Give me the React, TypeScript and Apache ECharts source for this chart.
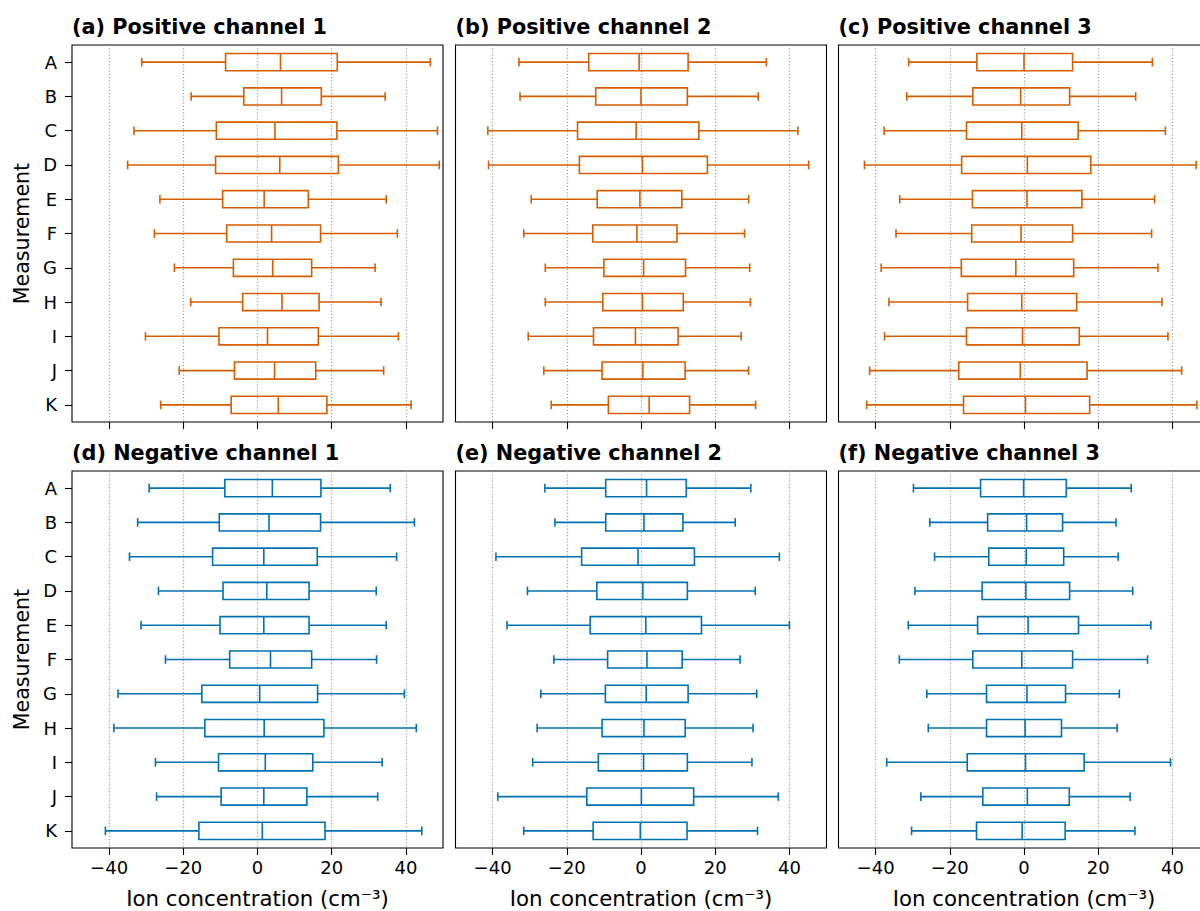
import React, { useEffect, useRef } from 'react';
import * as echarts from 'echarts';

const categories = ['A', 'B', 'C', 'D', 'E', 'F', 'G', 'H', 'I', 'J', 'K'];
const xTicks = [-40, -20, 0, 20, 40];

// each row: [lower whisker, Q1, median, Q3, upper whisker]
const positiveCh1 = [
  [-31.2, -8.6, 6.2, 21.5, 46.6],
  [-17.9, -3.7, 6.5, 17.2, 34.4],
  [-33.3, -11.1, 4.7, 21.4, 48.5],
  [-35.0, -11.3, 6.0, 21.8, 49.0],
  [-26.3, -9.4, 1.8, 13.7, 34.7],
  [-27.8, -8.3, 3.8, 17.0, 37.7],
  [-22.4, -6.5, 4.1, 14.6, 31.7],
  [-18.0, -4.0, 6.6, 16.6, 33.3],
  [-30.2, -10.4, 2.7, 16.4, 38.0],
  [-21.1, -6.2, 4.6, 15.7, 34.0],
  [-26.1, -7.1, 5.6, 18.7, 41.4],
];
const positiveCh2 = [
  [-32.9, -14.1, -0.5, 12.7, 33.8],
  [-32.6, -12.2, 0.0, 12.5, 31.6],
  [-41.3, -17.1, -1.3, 15.6, 42.3],
  [-41.1, -16.6, 0.4, 17.9, 45.2],
  [-29.6, -11.8, -0.3, 11.0, 29.0],
  [-31.6, -13.0, -1.1, 9.7, 27.9],
  [-25.8, -10.0, 0.7, 12.0, 29.3],
  [-25.8, -10.3, 0.4, 11.4, 29.5],
  [-30.4, -12.8, -1.5, 10.0, 27.0],
  [-26.2, -10.5, 0.5, 11.9, 29.0],
  [-24.2, -8.8, 2.2, 13.1, 30.9],
];
const positiveCh3 = [
  [-31.1, -12.7, 0.0, 13.1, 34.6],
  [-31.6, -13.8, -0.9, 12.3, 30.1],
  [-37.7, -15.5, -0.6, 14.6, 38.1],
  [-43.0, -16.8, 0.9, 18.0, 46.4],
  [-33.5, -13.9, 0.8, 15.6, 35.2],
  [-34.5, -14.1, -0.8, 13.1, 34.4],
  [-38.5, -16.9, -2.2, 13.4, 36.1],
  [-36.4, -15.2, -0.6, 14.2, 37.2],
  [-37.6, -15.5, -0.4, 14.9, 38.8],
  [-41.6, -17.6, -1.0, 17.0, 42.5],
  [-42.4, -16.3, 0.4, 17.7, 46.6],
];
const negativeCh1 = [
  [-29.2, -8.8, 4.0, 17.1, 35.8],
  [-32.3, -10.3, 3.1, 17.0, 42.3],
  [-34.5, -12.1, 1.7, 16.1, 37.5],
  [-26.7, -9.3, 2.5, 13.9, 32.0],
  [-31.4, -10.1, 1.7, 13.9, 34.7],
  [-24.8, -7.5, 3.5, 14.6, 32.1],
  [-37.6, -15.0, 0.6, 16.2, 39.6],
  [-38.7, -14.2, 1.8, 17.9, 42.8],
  [-27.5, -10.5, 2.1, 14.9, 33.6],
  [-27.2, -9.8, 1.7, 13.3, 32.4],
  [-41.0, -15.8, 1.3, 18.2, 44.3],
];
const negativeCh2 = [
  [-25.9, -9.5, 1.5, 12.2, 29.6],
  [-23.2, -9.5, 0.8, 11.3, 25.4],
  [-39.1, -16.0, -0.8, 14.4, 37.3],
  [-30.6, -11.9, 0.5, 12.5, 30.8],
  [-36.1, -13.7, 1.3, 16.3, 40.0],
  [-23.5, -9.0, 1.6, 11.1, 26.7],
  [-27.0, -9.6, 1.4, 12.7, 31.2],
  [-28.0, -10.5, 0.8, 11.9, 30.2],
  [-29.2, -11.5, 0.7, 12.5, 29.9],
  [-38.6, -14.6, 0.1, 14.2, 37.0],
  [-31.6, -12.9, -0.2, 12.4, 31.4],
];
const negativeCh3 = [
  [-29.8, -11.7, -0.1, 11.4, 28.9],
  [-25.4, -9.8, 0.7, 10.4, 24.8],
  [-24.1, -9.5, 0.6, 10.7, 25.4],
  [-29.4, -11.3, 0.5, 12.3, 29.3],
  [-31.2, -12.5, 1.1, 14.7, 34.2],
  [-33.6, -13.8, -0.6, 13.1, 33.3],
  [-26.2, -10.1, 0.8, 11.2, 25.7],
  [-25.8, -10.1, 0.3, 10.1, 25.1],
  [-37.0, -15.3, 0.4, 16.2, 39.5],
  [-27.8, -11.1, 0.9, 12.2, 28.6],
  [-30.3, -12.8, -0.5, 11.1, 29.9],
];

const panelTitles = [
  '(a) Positive channel 1',
  '(b) Positive channel 2',
  '(c) Positive channel 3',
  '(d) Negative channel 1',
  '(e) Negative channel 2',
  '(f) Negative channel 3',
];
const panelData = [positiveCh1, positiveCh2, positiveCh3, negativeCh1, negativeCh2, negativeCh3];

const ORANGE = '#D55E00';
const BLUE = '#0072B2';
const FONT = 'DejaVu Sans';

const COL_LEFT = [72, 455.5, 838.5];
const ROW_TOP = [45, 471];
const PANEL_W = 371;
const PANEL_H = 377;

function fmt(v: number) {
  return v < 0 ? '\u2212' + Math.abs(v) : String(v);
}

export default function App() {
  const ref = useRef<HTMLDivElement>(null);
  useEffect(() => {
    if (!ref.current) return;
    const chart = echarts.init(ref.current, null, { renderer: 'svg' });
    const grids: any[] = [];
    const xAxes: any[] = [];
    const yAxes: any[] = [];
    const series: any[] = [];
    const titles: any[] = [];
    for (let i = 0; i < 6; i++) {
      const row = Math.floor(i / 3);
      const col = i % 3;
      const color = row === 0 ? ORANGE : BLUE;
      grids.push({
        left: COL_LEFT[col],
        top: ROW_TOP[row],
        width: PANEL_W,
        height: PANEL_H,
        show: true,
        borderColor: '#000',
        borderWidth: 1.1,
        backgroundColor: 'transparent',
        containLabel: false,
      });
      titles.push({
        text: panelTitles[i],
        left: COL_LEFT[col],
        top: ROW_TOP[row] - 29,
        padding: 0,
        textStyle: { fontFamily: FONT, fontWeight: 'bold', fontSize: 20.8, color: '#000' },
      });
      xAxes.push({
        type: 'value',
        gridIndex: i,
        min: -50,
        max: 50,
        axisLine: { show: false, onZero: false },
        axisTick: {
          show: true,
          length: 7,
          customValues: xTicks,
          lineStyle: { color: '#000', width: 1.1 },
        },
        axisLabel: {
          show: row === 1,
          customValues: xTicks,
          formatter: fmt,
          margin: 10,
          fontFamily: FONT,
          fontSize: 18,
          color: '#000',
        },
        splitLine: {
          show: true,
          lineStyle: { color: '#a0a0a0', width: 1.2, type: [1.2, 2] },
        },
        name: row === 1 ? 'Ion concentration (cm\u207B\u00B3)' : '',
        nameLocation: 'middle',
        nameGap: 40,
        nameTextStyle: { fontFamily: FONT, fontSize: 21.3, color: '#000' },
      });
      yAxes.push({
        type: 'category',
        gridIndex: i,
        data: categories,
        inverse: true,
        axisLine: { show: false, onZero: false },
        axisTick: {
          show: col === 0,
          alignWithLabel: true,
          length: 7,
          lineStyle: { color: '#000', width: 1.1 },
        },
        axisLabel: {
          show: col === 0,
          margin: 15,
          fontFamily: FONT,
          fontSize: 18,
          color: '#000',
        },
        splitLine: { show: false },
        name: col === 0 ? 'Measurement' : '',
        nameLocation: 'middle',
        nameRotate: 90,
        nameGap: 40,
        nameTextStyle: { fontFamily: FONT, fontSize: 20.6, color: '#000' },
      });
      const rows = panelData[i];
      series.push({
        type: 'custom',
        xAxisIndex: i,
        yAxisIndex: i,
        dimensions: ['cat', 'low', 'q1', 'median', 'q3', 'high'],
        encode: { x: [1, 2, 3, 4, 5], y: 0 },
        data: rows.map((r, k) => [k, ...r]),
        renderItem: (params: any, api: any) => {
          const c = api.value(0);
          const lo = api.coord([api.value(1), c]);
          const q1 = api.coord([api.value(2), c]);
          const md = api.coord([api.value(3), c]);
          const q3 = api.coord([api.value(4), c]);
          const hi = api.coord([api.value(5), c]);
          const band = api.size([0, 1])[1];
          const bh = band * 0.25;
          const ch = band * 0.125;
          const y = lo[1];
          const style = { stroke: color, lineWidth: 1.6, fill: 'none' };
          return {
            type: 'group',
            children: [
              { type: 'rect', shape: { x: q1[0], y: y - bh, width: q3[0] - q1[0], height: 2 * bh }, style },
              { type: 'line', shape: { x1: lo[0], y1: y, x2: q1[0], y2: y }, style },
              { type: 'line', shape: { x1: q3[0], y1: y, x2: hi[0], y2: y }, style },
              { type: 'line', shape: { x1: lo[0], y1: y - ch, x2: lo[0], y2: y + ch }, style },
              { type: 'line', shape: { x1: hi[0], y1: y - ch, x2: hi[0], y2: y + ch }, style },
              { type: 'line', shape: { x1: md[0], y1: y - bh, x2: md[0], y2: y + bh }, style },
            ],
          };
        },
      });
    }
    chart.setOption({
      animation: false,
      backgroundColor: '#fff',
      title: titles,
      grid: grids,
      xAxis: xAxes,
      yAxis: yAxes,
      series,
    });
    return () => chart.dispose();
  }, []);
  return (
    <div
      style={{ position: 'absolute', left: 0, top: 0, width: 1200, height: 911, overflow: 'hidden' }}
    >
      <div ref={ref} style={{ width: 1230, height: 911 }} />
    </div>
  );
}
